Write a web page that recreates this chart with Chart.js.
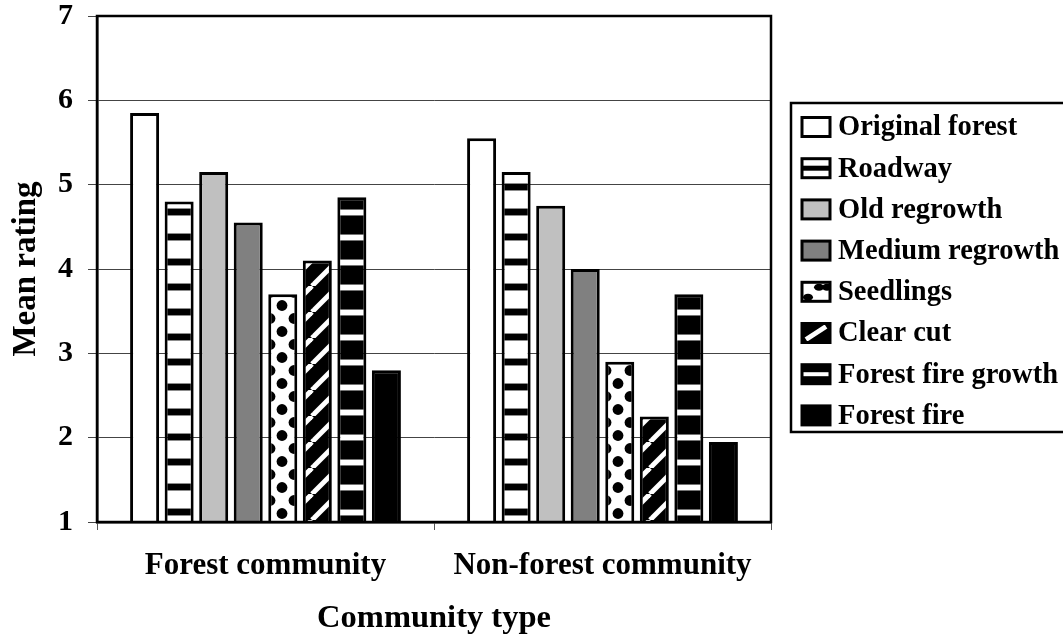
<!DOCTYPE html>
<html>
<head>
<meta charset="utf-8">
<script src="https://cdn.jsdelivr.net/npm/chart.js@4/dist/chart.umd.min.js"></script>
<style>
  html, body { margin: 0; padding: 0; background: #ffffff; }
  #wrap { width: 1063px; height: 638px; position: relative; }
</style>
</head>
<body>
<div id="wrap"><canvas id="c" width="1063" height="638"></canvas></div>
<script>
// Categories and series
const communities = ['Forest community', 'Non-forest community'];
const landscapes = ['Original forest', 'Roadway', 'Old regrowth', 'Medium regrowth',
                    'Seedlings', 'Clear cut', 'Forest fire growth', 'Forest fire'];
const forestRatings    = [5.85, 4.8, 5.15, 4.55, 3.7, 4.1, 4.85, 2.8];
const nonForestRatings = [5.55, 5.15, 4.75, 4.0, 2.9, 2.25, 3.7, 1.95];
const yTicks = [1, 2, 3, 4, 5, 6, 7];

// Fill for each landscape: a flat colour or a named hatch
const fills = ['#ffffff', 'stripes', '#c0c0c0', '#808080', 'dots', 'diagonal', 'dashes', '#000000'];

const FONT = '"Liberation Serif", "Times New Roman", serif';
const canvas = document.getElementById('c');
const ctx = canvas.getContext('2d');

function tile(w, h, draw) {
  const t = document.createElement('canvas');
  t.width = w; t.height = h;
  draw(t.getContext('2d'), w, h);
  return ctx.createPattern(t, 'repeat');
}

const patterns = {
  // white with black horizontal bands
  stripes: tile(4, 25, (g, w, h) => {
    g.fillStyle = '#fff'; g.fillRect(0, 0, w, h);
    g.fillStyle = '#000'; g.fillRect(0, 9, w, 6);
    g.fillStyle = 'rgba(0,0,0,0.45)'; g.fillRect(0, 8, w, 1); g.fillRect(0, 15, w, 1);
  }),
  // white with staggered black dots
  dots: tile(24, 26, (g, w, h) => {
    g.fillStyle = '#fff'; g.fillRect(0, 0, w, h);
    g.fillStyle = '#000';
    [[6, 6.5], [18, 19.5], [18, -6.5], [6, 32.5]].forEach(([x, y]) => {
      g.beginPath(); g.arc(x, y, 5.4, 0, Math.PI * 2); g.fill();
    });
  }),
  // black with white "/" diagonals
  diagonal: tile(26, 26, (g, w, h) => {
    g.fillStyle = '#000'; g.fillRect(0, 0, w, h);
    g.strokeStyle = '#fff'; g.lineWidth = 5;
    [-w, 0, w].forEach(o => {
      g.beginPath(); g.moveTo(o, h); g.lineTo(o + w, 0); g.stroke();
    });
  }),
  // black with thin white horizontal dashes
  dashes: tile(4, 25, (g, w, h) => {
    g.fillStyle = '#000'; g.fillRect(0, 0, w, h);
    g.fillStyle = '#fff'; g.fillRect(0, 10, w, 5);
    g.fillStyle = 'rgba(255,255,255,0.45)'; g.fillRect(0, 9, w, 1); g.fillRect(0, 15, w, 1);
  })
};

function fillFor(i) {
  return patterns[fills[i]] || fills[i];
}

// Small legend swatches for each fill
function drawSwatch(g, kind, x, y, w, h) {
  g.save();
  g.beginPath(); g.rect(x, y, w, h); g.clip();
  if (kind === 'stripes') {
    g.fillStyle = '#fff'; g.fillRect(x, y, w, h);
    g.fillStyle = '#000'; g.fillRect(x, y + h / 2 - 2.5, w, 5);
  } else if (kind === 'dashes') {
    g.fillStyle = '#000'; g.fillRect(x, y, w, h);
    g.fillStyle = '#fff'; g.fillRect(x, y + h / 2 - 2, w, 4);
  } else if (kind === 'dots') {
    g.fillStyle = '#fff'; g.fillRect(x, y, w, h);
    g.fillStyle = '#000';
    [[x + 6, y + h - 4], [x + 17, y + 5], [x + 25, y + 5]].forEach(([cx, cy]) => {
      g.beginPath(); g.ellipse(cx, cy, 5, 3.5, 0, 0, Math.PI * 2); g.fill();
    });
  } else if (kind === 'diagonal') {
    g.fillStyle = '#000'; g.fillRect(x, y, w, h);
    g.strokeStyle = '#fff'; g.lineWidth = 5;
    g.beginPath(); g.moveTo(x + 4, y + h - 3); g.lineTo(x + w - 4, y + 3); g.stroke();
  } else {
    g.fillStyle = kind; g.fillRect(x, y, w, h);
  }
  g.restore();
  g.lineWidth = 3; g.strokeStyle = '#000';
  g.strokeRect(x, y, w, h);
}

// Frame around the plot area
const frame = {
  id: 'frame',
  afterDraw(chart) {
    const a = chart.chartArea, g = chart.ctx;
    g.save();
    g.strokeStyle = '#000'; g.lineWidth = 2.5;
    g.strokeRect(a.left, a.top, a.right - a.left, a.bottom - a.top);
    g.restore();
  }
};

// Boxed legend on the right of the plot
const boxedLegend = {
  id: 'boxedLegend',
  afterDraw(chart) {
    const g = chart.ctx;
    const a = chart.chartArea;
    const left = a.right + 20, top = 103, bottom = 432;
    g.save();
    g.strokeStyle = '#000'; g.lineWidth = 2.5;
    g.strokeRect(left, top, chart.width + 20 - left, bottom - top);
    chart.data.datasets.forEach((ds, i) => {
      const cy = top + 24 + i * 41.2;
      drawSwatch(g, fills[i], left + 11, cy - 9.5, 28, 19);
      g.fillStyle = '#000';
      g.font = 'bold 28.5px ' + FONT;
      g.textBaseline = 'middle';
      g.textAlign = 'left';
      g.fillText(ds.label, left + 47, cy + 1);
    });
    g.restore();
  }
};

const datasets = landscapes.map((name, i) => ({
  label: name,
  data: [forestRatings[i], nonForestRatings[i]],
  backgroundColor: fillFor(i),
  borderColor: '#000',
  borderWidth: 3,
  barPercentage: 0.84,
  categoryPercentage: 0.82
}));

new Chart(ctx, {
  type: 'bar',
  data: { labels: communities, datasets },
  plugins: [frame, boxedLegend],
  options: {
    responsive: false,
    animation: false,
    devicePixelRatio: 1,
    layout: { padding: { top: 16, right: 292, bottom: 0, left: 0 } },
    plugins: {
      legend: { display: false },
      tooltip: { enabled: false }
    },
    scales: {
      x: {
        afterFit(scale) { scale.height = 116; },
        grid: { offset: true, drawOnChartArea: false, drawTicks: true, tickLength: 8, color: '#555', lineWidth: 1 },
        border: { display: true, color: '#000', width: 2.5 },
        ticks: {
          color: '#000', padding: 17,
          font: { family: FONT, size: 31, weight: 'bold' }
        },
        title: {
          display: true, text: 'Community type', color: '#000',
          padding: { top: 0, bottom: 0 },
          font: { family: FONT, size: 32.5, weight: 'bold' }
        }
      },
      y: {
        min: yTicks[0],
        max: yTicks[yTicks.length - 1],
        afterFit(scale) {
          scale.width = 97;
          scale.paddingTop = 0;
          scale.paddingBottom = 0;
        },
        afterBuildTicks(scale) { scale.ticks = yTicks.map(v => ({ value: v })); },
        grid: { color: '#444', lineWidth: 1, drawTicks: true, tickLength: 9 },
        border: { display: true, color: '#000', width: 2.5 },
        ticks: {
          color: '#000', padding: 15,
          font: { family: FONT, size: 30, weight: 'bold', lineHeight: 1 }
        },
        title: {
          display: true, text: 'Mean rating', color: '#000',
          padding: { top: 7, bottom: 0 },
          font: { family: FONT, size: 33, weight: 'bold' }
        }
      }
    }
  }
});
</script>
</body>
</html>
